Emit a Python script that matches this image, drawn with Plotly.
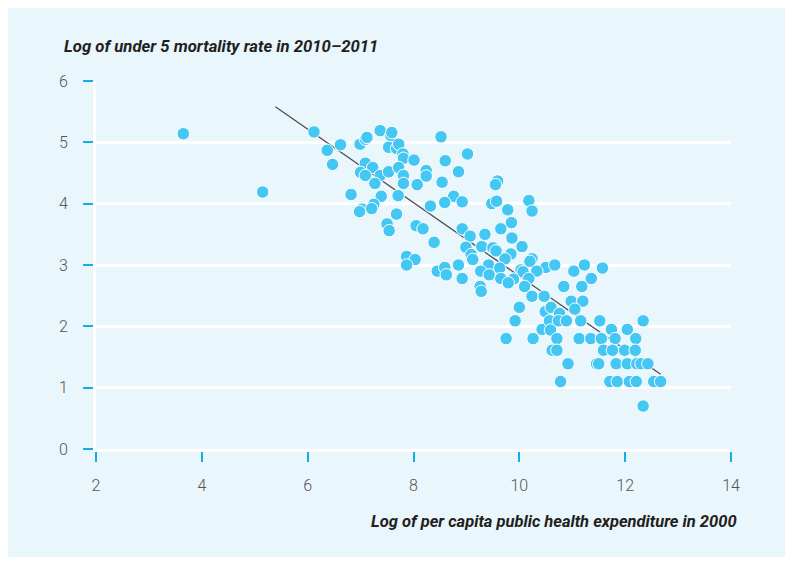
import plotly.graph_objects as go

# Log of per capita public health expenditure in 2000
expenditure = [
    3.65, 5.15, 6.12, 6.37, 6.62, 6.47, 6.82, 6.99, 7.09, 7.12,
    7.37, 7.57, 7.59, 7.53, 7.68, 7.72, 7.80, 7.81, 8.01, 7.09,
    7.23, 7.00, 7.09, 7.37, 7.53, 7.72, 7.81, 8.24, 8.24, 7.27,
    7.81, 8.07, 7.39, 7.71, 7.25, 7.03, 6.98, 7.21, 7.68, 8.32,
    7.50, 7.54, 8.05, 8.18, 8.39, 7.87, 8.03, 7.87, 8.45, 8.52,
    9.02, 8.60, 8.85, 8.54, 9.59, 9.55, 8.76, 8.59, 8.92, 9.48,
    9.57, 10.18, 10.24, 9.78, 9.85, 9.65, 8.92, 9.07, 9.35, 9.86,
    10.05, 8.99, 9.29, 9.50, 9.56, 9.09, 9.12, 9.84, 9.73, 10.24,
    10.20, 10.50, 10.67, 8.85, 9.42, 9.63, 8.59, 8.62, 10.03, 10.07,
    10.33, 9.27, 9.43, 8.92, 9.65, 9.89, 10.18, 9.79, 9.26, 9.28,
    10.10, 10.24, 10.47, 10.00, 9.92, 9.75, 10.26, 10.43, 10.49, 10.60,
    10.57, 10.59, 10.76, 10.71, 10.62, 10.71, 10.78, 10.84, 11.03, 11.23,
    11.57, 11.36, 11.18, 10.98, 11.20, 11.05, 10.74, 10.89, 11.16, 11.52,
    12.34, 11.74, 12.04, 11.13, 11.35, 11.55, 11.81, 12.20, 11.59, 11.76,
    11.99, 12.19, 10.92, 11.46, 11.50, 11.83, 12.04, 12.22, 12.30, 12.43,
    11.71, 11.85, 12.08, 12.21, 12.54, 12.67, 12.34,
]

# Log of under 5 mortality rate in 2010-2011
mortality = [
    5.14, 4.19, 5.17, 4.87, 4.96, 4.64, 4.15, 4.97, 5.05, 5.08,
    5.19, 5.11, 5.16, 4.92, 4.90, 4.97, 4.81, 4.74, 4.71, 4.66,
    4.59, 4.51, 4.46, 4.46, 4.52, 4.59, 4.46, 4.54, 4.45, 4.33,
    4.33, 4.31, 4.12, 4.13, 3.99, 3.91, 3.87, 3.92, 3.83, 3.96,
    3.67, 3.56, 3.64, 3.59, 3.37, 3.14, 3.09, 3.00, 2.90, 5.09,
    4.81, 4.70, 4.52, 4.35, 4.37, 4.31, 4.12, 4.02, 4.03, 4.00,
    4.04, 4.05, 3.88, 3.90, 3.69, 3.59, 3.59, 3.47, 3.50, 3.44,
    3.30, 3.29, 3.30, 3.28, 3.23, 3.17, 3.09, 3.18, 3.10, 3.10,
    3.06, 2.96, 3.00, 3.00, 3.00, 2.95, 2.96, 2.84, 2.92, 2.89,
    2.90, 2.90, 2.84, 2.78, 2.78, 2.77, 2.78, 2.71, 2.65, 2.57,
    2.65, 2.49, 2.49, 2.31, 2.09, 1.80, 1.80, 1.95, 2.24, 2.31,
    2.09, 1.94, 2.21, 1.80, 1.61, 1.61, 1.10, 2.65, 2.90, 3.00,
    2.95, 2.78, 2.65, 2.41, 2.41, 2.28, 2.09, 2.09, 2.09, 2.09,
    2.09, 1.95, 1.95, 1.80, 1.80, 1.80, 1.80, 1.80, 1.61, 1.61,
    1.61, 1.61, 1.39, 1.39, 1.39, 1.39, 1.39, 1.39, 1.39, 1.39,
    1.10, 1.10, 1.10, 1.10, 1.10, 1.10, 0.70,
]

# Fitted trend line end points
trend_x = [5.39, 12.67]
trend_y = [5.58, 1.22]

x_ticks = [2, 4, 6, 8, 10, 12, 14]
y_ticks = [0, 1, 2, 3, 4, 5, 6]

y_title = "Log of under 5 mortality rate in 2010–2011"
x_title = "Log of per capita public health expenditure in 2000"

BG = "#E9F6FC"
DOT = "#44C7F3"
TICK = "#14AEE6"
TITLE_FONT = "Roboto"
TICK_FONT = "Roboto"

fig = go.Figure()
fig.add_trace(go.Scatter(
    x=trend_x, y=trend_y, mode="lines",
    line=dict(color="#4D4D4D", width=1.3),
    hoverinfo="skip", showlegend=False,
))
fig.add_trace(go.Scatter(
    x=expenditure, y=mortality, mode="markers",
    marker=dict(size=12.5, color=DOT, line=dict(color="white", width=1)),
    showlegend=False,
))

# The page adds an 8px body margin; the figure itself is the blue panel.
W, H = 777, 549
L, R, T, B = 88, 54, 73, 108
pw, ph = W - L - R, H - T - B

def px(sx):
    return (sx - 8 - L) / pw

def py(sy):
    return (T + ph - (sy - 8)) / ph

fig.add_annotation(
    text=y_title, xref="paper", yref="paper",
    x=px(62), y=py(46),
    xanchor="left", yanchor="middle", showarrow=False,
    font=dict(family=TITLE_FONT, size=16.7, color="#231F20", weight="bold", style="italic"),
)
fig.add_annotation(
    text=x_title, xref="paper", yref="paper",
    x=px(739), y=py(521),
    xanchor="right", yanchor="middle", showarrow=False,
    font=dict(family=TITLE_FONT, size=16.5, color="#231F20", weight="bold", style="italic"),
)

fig.update_layout(
    width=W, height=H,
    margin=dict(l=L, r=R, t=T, b=B, pad=0),
    paper_bgcolor=BG,
    plot_bgcolor=BG,
    font=dict(family=TICK_FONT, size=16, color="#555555"),
    xaxis=dict(
        range=[2, 14], tickvals=x_ticks, ticktext=[str(v) for v in x_ticks],
        showgrid=False, zeroline=False,
        showline=True, linecolor="white", linewidth=3,
        ticks="outside", ticklen=10, tickwidth=2, tickcolor=TICK,
        ticklabelstandoff=10,
        tickfont=dict(family=TICK_FONT, size=16, color="#555555", weight=300),
    ),
    yaxis=dict(
        range=[0, 6], tickvals=y_ticks, ticktext=[str(v) for v in y_ticks],
        showgrid=True, gridcolor="white", gridwidth=3,
        zeroline=False,
        showline=True, linecolor="white", linewidth=3,
        ticks="outside", ticklen=10, tickwidth=2, tickcolor=TICK,
        ticklabelstandoff=12,
        tickfont=dict(family=TICK_FONT, size=16, color="#555555", weight=300),
    ),
)

fig.write_html("out.html")
